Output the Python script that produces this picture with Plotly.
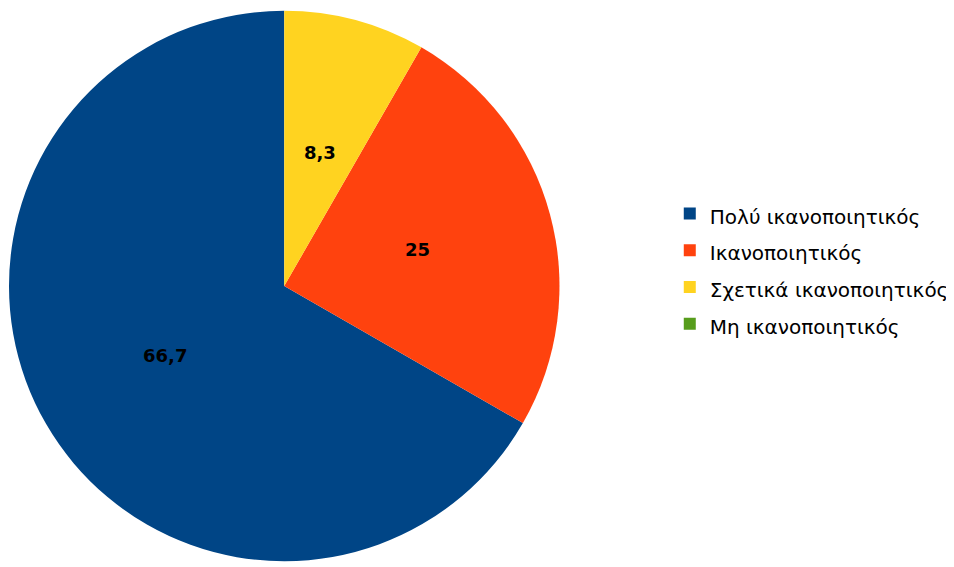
import math
import plotly.graph_objects as go

categories = ["Πολύ ικανοποιητικός", "Ικανοποιητικός", "Σχετικά ικανοποιητικός", "Μη ικανοποιητικός"]
values = [66.7, 25, 8.3, 0]
value_labels = ["66,7", "25", "8,3", ""]
colors = ["#004586", "#ff420e", "#ffd320", "#579d1c"]

# page has an 8px body margin; size the figure to fit the window
W, H = 946, 559
cx, cy, r = 278, 278, 277

legend_labels = [f"<span style='font-size:20px'>{c}</span>" for c in categories]

total = sum(values)
# counterclockwise, first slice ending at 12 o'clock side of the remaining slices
rotation = 360 * sum(values[1:]) / total

fig = go.Figure(go.Pie(
    labels=legend_labels,
    values=values,
    textinfo="none",
    marker=dict(colors=colors, line=dict(width=0)),
    sort=False,
    direction="counterclockwise",
    rotation=rotation,
    hoverinfo="percent",
    domain=dict(x=[(cx - r) / W, (cx + r) / W], y=[(H - cy - r) / H, (H - cy + r) / H]),
))

# value labels placed at half radius along each slice's mid angle
spans = [(rotation, rotation + 360 * values[0] / total)]
cur = rotation
for v in values[1:]:
    nxt = cur - 360 * v / total
    spans.append((nxt, cur))
    cur = nxt

d = r * 0.5
for (a0, a1), lab in zip(spans, value_labels):
    if not lab:
        continue
    th = math.radians((a0 + a1) / 2)
    px = cx + d * math.sin(th)
    py = cy - d * math.cos(th)
    fig.add_annotation(
        x=px / W, y=1 - py / H, xref="paper", yref="paper",
        text=lab, showarrow=False,
        font=dict(family="DejaVu Sans", size=18, color="black", weight="bold"),
        xanchor="center", yanchor="middle",
    )

fig.update_layout(
    width=W, height=H,
    margin=dict(l=0, r=0, t=0, b=0),
    paper_bgcolor="white",
    showlegend=True,
    legend=dict(
        x=666 / W, xanchor="left",
        y=1 - 261 / H, yanchor="middle",
        font=dict(family="DejaVu Sans", size=26, color="black"),
        bgcolor="rgba(0,0,0,0)",
        traceorder="normal",
    ),
)

fig.write_html("out.html")
